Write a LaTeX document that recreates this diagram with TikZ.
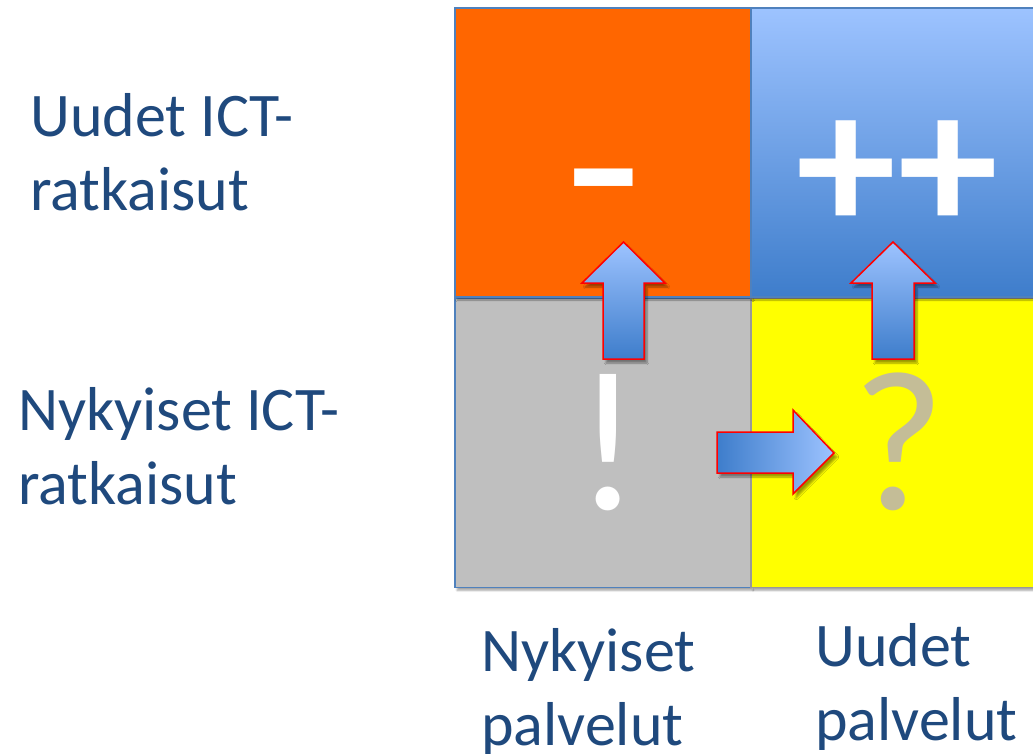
\documentclass[tikz,border=0pt]{standalone}
\usepackage{fontspec}
\setmainfont{Carlito}
\usetikzlibrary{shadows.blur}
\definecolor{lbl}{RGB}{31,73,125}
\definecolor{boxline}{RGB}{79,129,189}
\definecolor{orng}{RGB}{255,102,0}
\definecolor{blutop}{RGB}{157,195,255}
\definecolor{blubot}{RGB}{62,125,203}
\definecolor{gry}{RGB}{191,191,191}
\definecolor{ylw}{RGB}{255,255,0}
\definecolor{tan}{RGB}{196,189,151}
\tikzset{
  quad/.style={draw=boxline, line width=1.5pt, minimum width=296pt, minimum height=289pt, inner sep=0pt,
    blur shadow={shadow xshift=2pt, shadow yshift=-3pt, shadow blur steps=5, shadow opacity=35}},
  lab/.style={text=lbl, font=\fontsize{62}{74}\selectfont, align=left, inner sep=0pt},
  sym/.style={font=\fontsize{200}{200}\selectfont, inner sep=0pt, anchor=base},
  blockarrow/.style={draw=red, line width=1.5pt, line join=miter,
    blur shadow={shadow xshift=3pt, shadow yshift=-4pt, shadow blur steps=6, shadow opacity=40}}
}
\begin{document}
\begin{tikzpicture}[x=1pt,y=-1pt]
\useasboundingbox (0,0) rectangle (1033,754);
\begin{scope}
\clip (0,0) rectangle (1033,754);
% quadrants
\node[quad, fill=gry] (sw) at (603,443) {};
\node[quad, fill=ylw, draw=gry!80!black] (se) at (899,443) {};
\node[quad, fill=orng] (nw) at (603,152.5) {};
\node[quad, top color=blutop, bottom color=blubot] (ne) at (899,152.5) {};
% symbols
\node[sym, text=white] (minus) at (604,245) {\scalebox{1.25}[1.2]{-}};
\node[sym, text=white, font=\fontsize{200}{200}\selectfont\bfseries] (plus) at (897,232) {++};
\node[sym, text=white] (excl) at (608,509) {!};
\node[sym, text=tan] (ques) at (899,509) {?};
% block arrows
\path[blockarrow, top color=blutop, bottom color=blubot]
  (603,359) -- (603,283) -- (582,283) -- (623.5,242) -- (665,283) -- (644,283) -- (644,359) -- cycle;
\path[blockarrow, top color=blutop, bottom color=blubot]
  (872,359) -- (872,283) -- (851,283) -- (893,242) -- (935,283) -- (914,283) -- (914,359) -- cycle;
\path[blockarrow, left color=blubot, right color=blutop]
  (717,432) -- (793,432) -- (793,410) -- (834,453) -- (793,494) -- (793,473) -- (717,473) -- cycle;
\end{scope}
% labels (base anchor = baseline of last line)
\node[lab, anchor=base west] (newict) at (30,211) {Uudet ICT-\\ratkaisut};
\node[lab, anchor=base west] (curict) at (18,504) {Nykyiset ICT-\\ratkaisut};
\node[lab, anchor=base west] (cursrv) at (481,745) {Nykyiset\\palvelut};
\node[lab, anchor=base west] (newsrv) at (815,740) {Uudet\\palvelut};
\end{tikzpicture}
\end{document}
